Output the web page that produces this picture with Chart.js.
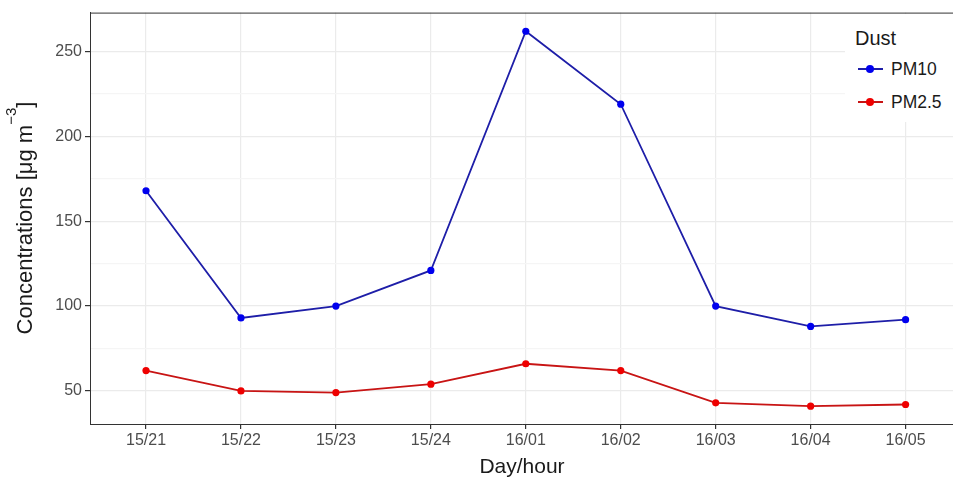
<!DOCTYPE html>
<html>
<head>
<meta charset="utf-8">
<script src="https://cdn.jsdelivr.net/npm/chart.js@4.4.1/dist/chart.umd.min.js"></script>
<style>
    html, body { margin: 0; padding: 0; background: #fff; overflow: hidden; }
    #wrap { position: relative; width: 953px; height: 477px; overflow: hidden; }
    #legend {
        position: absolute; left: 845px; top: 14px; width: 108px; height: 108px;
        background: #fff; font-family: "Liberation Sans", Arial, sans-serif; color: #1a1a1a;
    }
    #legend .titulo { position: absolute; left: 10px; top: 12px; font-size: 20px; line-height: 24px; }
    #legend .item { position: absolute; left: 13px; height: 20px; width: 95px; }
    #legend .linea { position: absolute; left: 0; top: 9px; width: 25px; height: 2px; }
    #legend .punto { position: absolute; left: 8px; top: 6px; width: 8px; height: 8px; border-radius: 50%; }
    #legend .texto { position: absolute; left: 33px; top: 0; font-size: 17.5px; line-height: 20px; }
    #ytitulo {
        position: absolute; left: 25px; top: 218px; width: 300px; height: 26px;
        margin-left: -150px; margin-top: -13px; text-align: center; white-space: nowrap;
        transform: rotate(-90deg); font-family: "Liberation Sans", Arial, sans-serif;
        font-size: 22px; line-height: 26px; color: #1a1a1a;
    }
    #ytitulo sup { font-size: 15px; position: relative; top: -1px; vertical-align: top; line-height: 0; }
</style>
</head>
<body>
<div id="wrap">
    <canvas id="grafico" width="958" height="477"></canvas>
    <div id="ytitulo">Concentrations [μg m<sup>−3</sup>]</div>
    <div id="legend"></div>
</div>
<script>
// Datos
const HORAS = ['15/21', '15/22', '15/23', '15/24', '16/01', '16/02', '16/03', '16/04', '16/05'];
const PM10 = [168, 93, 100, 121, 262, 219, 100, 88, 92];
const PM25 = [62, 50, 49, 54, 66, 62, 43, 41, 42];
const SERIES = ['PM10', 'PM2.5'];
const LEYENDA_TITULO = 'Dust';

const FUENTE = '"Liberation Sans", Arial, sans-serif';
const COLORES_LINEA = ['#1e1ea8', '#c81414'];
const COLORES_PUNTO = ['#0000ee', '#ee0000'];

// pasar a puntos {x, y} para el eje lineal
function aPuntos(valores) {
    return valores.map((v, i) => ({ x: i, y: v }));
}

// borde superior del panel (ggplot lo dibuja, Chart.js no)
const bordePanel = {
    id: 'bordePanel',
    afterDraw(chart) {
        const a = chart.chartArea;
        const c = chart.ctx;
        c.save();
        c.strokeStyle = '#333333';
        c.lineWidth = 1;
        c.beginPath();
        c.moveTo(a.left, a.top + 0.5);
        c.lineTo(a.right, a.top + 0.5);
        c.stroke();
        c.restore();
    }
};

const datasets = [PM10, PM25].map((serie, k) => ({
    label: SERIES[k],
    data: aPuntos(serie),
    borderColor: COLORES_LINEA[k],
    backgroundColor: COLORES_PUNTO[k],
    pointBackgroundColor: COLORES_PUNTO[k],
    pointBorderColor: COLORES_PUNTO[k],
    borderWidth: 1.8,
    pointRadius: 3.6,
    pointBorderWidth: 0,
    tension: 0
}));

new Chart(document.getElementById('grafico'), {
    type: 'line',
    data: { datasets: datasets },
    plugins: [bordePanel],
    options: {
        responsive: false,
        animation: false,
        layout: { padding: { top: 12, right: 0, left: 0, bottom: 0 } },
        plugins: { legend: { display: false }, tooltip: { enabled: false } },
        scales: {
            x: {
                type: 'linear',
                min: -0.59,
                max: 8.51,
                afterFit: (s) => { s.height = 53; },
                ticks: {
                    stepSize: 1,
                    includeBounds: false,
                    autoSkip: false,
                    maxRotation: 0,
                    color: '#4d4d4d',
                    padding: 2,
                    font: { family: FUENTE, size: 16 },
                    callback: (v) => HORAS[v] !== undefined ? HORAS[v] : ''
                },
                grid: { color: '#ebebeb', lineWidth: 1.2, tickColor: '#333333', tickLength: 5 },
                border: { color: '#333333', width: 1 },
                title: {
                    display: true, text: 'Day/hour', color: '#1a1a1a',
                    font: { family: FUENTE, size: 21 }, padding: { top: 0, bottom: -3 }
                }
            },
            y: {
                min: 30.5,
                max: 273,
                afterFit: (s) => { s.width = 90; },
                ticks: {
                    stepSize: 25,
                    includeBounds: false,
                    color: '#4d4d4d',
                    padding: 3,
                    font: { family: FUENTE, size: 16 },
                    callback: (v) => v % 50 === 0 ? v : ''
                },
                grid: {
                    color: (ctx) => ctx.tick && ctx.tick.value % 50 === 0 ? '#ebebeb' : '#f5f5f5',
                    lineWidth: 1.2,
                    tickColor: (ctx) => ctx.tick && ctx.tick.value % 50 === 0 ? '#333333' : 'rgba(0,0,0,0)',
                    tickLength: 5
                },
                border: { color: '#333333', width: 1 },
                title: { display: false }
            }
        }
    }
});

// leyenda en HTML sobre el panel
const leyenda = document.getElementById('legend');
leyenda.innerHTML = '<div class="titulo">' + LEYENDA_TITULO + '</div>';
SERIES.forEach((nombre, k) => {
    const item = document.createElement('div');
    item.className = 'item';
    item.style.top = (45 + k * 33) + 'px';
    item.innerHTML = '<div class="linea" style="background:' + COLORES_LINEA[k] + '"></div>' +
        '<div class="punto" style="background:' + COLORES_PUNTO[k] + '"></div>' +
        '<div class="texto">' + nombre + '</div>';
    leyenda.appendChild(item);
});
</script>
</body>
</html>
